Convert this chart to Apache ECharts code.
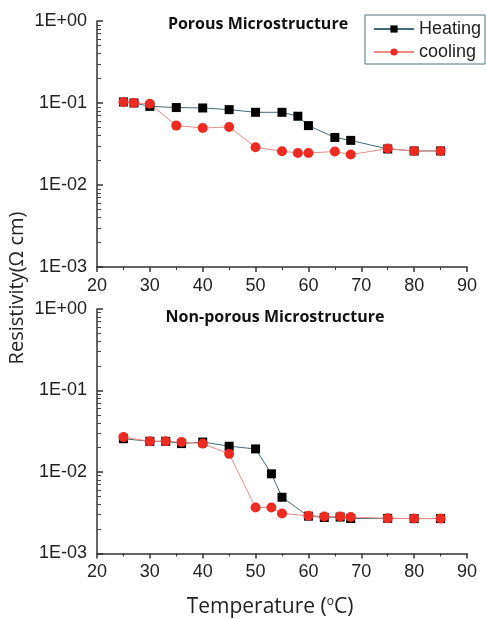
<!DOCTYPE html>
<html>
<head>
<meta charset="utf-8">
<script src="https://cdn.jsdelivr.net/npm/echarts@6/dist/echarts.min.js"></script>
<style>
  html, body { margin: 0; padding: 0; background: #fff; }
  #chart { width: 486px; height: 619px; }
</style>
</head>
<body>
<div id="chart"></div>
<script>
// porous microstructure
const porousHeatT = [25, 27, 30, 35, 40, 45, 50, 55, 58, 60, 65, 68, 75, 80, 85];
const porousHeat = [0.103, 0.100, 0.091, 0.088, 0.087, 0.083, 0.077, 0.077, 0.069, 0.053, 0.038, 0.035, 0.0275, 0.026, 0.026];
const porousCoolT = [25, 27, 30, 35, 40, 45, 50, 55, 58, 60, 65, 68, 75, 80, 85];
const porousCool = [0.103, 0.100, 0.098, 0.053, 0.0496, 0.051, 0.0288, 0.0258, 0.0246, 0.0246, 0.0256, 0.0235, 0.0278, 0.026, 0.026];
// non-porous microstructure
const denseHeatT = [25, 30, 33, 36, 40, 45, 50, 53, 55, 60, 63, 66, 68, 75, 80, 85];
const denseHeat = [0.0256, 0.0238, 0.0238, 0.0223, 0.0233, 0.0207, 0.0192, 0.0095, 0.0049, 0.00287, 0.00277, 0.0028, 0.00269, 0.0027, 0.00268, 0.00268];
const denseCoolT = [25, 30, 33, 36, 40, 45, 50, 53, 55, 60, 63, 66, 68, 75, 80, 85];
const denseCool = [0.0268, 0.0238, 0.0238, 0.0233, 0.0223, 0.0167, 0.00366, 0.00366, 0.0031, 0.0029, 0.00285, 0.00285, 0.0028, 0.0027, 0.00269, 0.00269];

const xTicks = [20, 30, 40, 50, 60, 70, 80, 90];

const pairs = (xs, ys) => xs.map((x, i) => [x, ys[i]]);
const expLabel = v => {
  const e = Math.round(Math.log10(v));
  return '1E' + (e >= 0 ? '+' : '-') + String(Math.abs(e)).padStart(2, '0');
};

const axisLine = { lineStyle: { color: '#333', width: 1.5 } };
const font = 'Liberation Sans, Arial, sans-serif';

const mkX = (gi, withName) => ({
  type: 'value', gridIndex: gi, min: xTicks[0], max: xTicks[xTicks.length - 1], interval: 10,
  axisLine: axisLine,
  axisTick: { inside: false, length: 5, lineStyle: { color: '#333', width: 1.5 } },
  minorTick: { show: true, splitNumber: 2, length: 3, lineStyle: { color: '#333' } },
  splitLine: { show: false },
  axisLabel: { color: '#222', fontSize: 18, fontFamily: font, margin: 10 },
  name: withName ? '{a|Temperature (}{s|o}{a|C)}' : '',
  nameLocation: 'middle', nameGap: 42,
  nameTextStyle: {
    padding: [0, 24, 0, 0],
    rich: {
      a: { fontSize: 21, color: '#222', fontFamily: 'Open Sans, sans-serif' },
      s: { fontSize: 12, color: '#222', fontFamily: 'Open Sans, sans-serif', padding: [0, 0, 12, 0] }
    }
  }
});

const mkY = gi => ({
  type: 'log', gridIndex: gi, logBase: 10, min: 0.001, max: 1,
  axisLine: axisLine,
  axisTick: { inside: true, length: 6, lineStyle: { color: '#333', width: 1.5 } },
  minorTick: { show: true, splitNumber: 9, length: 4, lineStyle: { color: '#444', width: 1 } },
  splitLine: { show: false },
  axisLabel: { color: '#222', fontSize: 18, fontFamily: font, margin: 10, formatter: expLabel }
});

const heatStyle = {
  type: 'line', symbol: 'rect', symbolSize: 9,
  itemStyle: { color: '#000' },
  lineStyle: { color: '#3f6b78', width: 1 }
};
const coolStyle = {
  type: 'line', symbol: 'circle', symbolSize: 10,
  itemStyle: { color: '#ee2b22' },
  lineStyle: { color: '#ec8b86', width: 1 }
};

const chart = echarts.init(document.getElementById('chart'));
chart.setOption({
  animation: false,
  title: [
    { text: 'Porous Microstructure', left: 253, top: 11, textAlign: 'center',
      textStyle: { fontSize: 16, fontWeight: 'bold', color: '#111', fontFamily: 'Open Sans, sans-serif' } },
    { text: 'Non-porous Microstructure', left: 270, top: 304, textAlign: 'center',
      textStyle: { fontSize: 16, fontWeight: 'bold', color: '#111', fontFamily: 'Open Sans, sans-serif' } }
  ],
  legend: {
    data: ['Heating', 'cooling'],
    orient: 'vertical', left: 365, top: 15,
    itemWidth: 40, itemHeight: 9, itemGap: 5,
    padding: [5, 4, 3, 8],
    borderColor: '#4f7480', borderWidth: 1,
    textStyle: { fontSize: 18, color: '#222', fontFamily: font }
  },
  graphic: [{
    type: 'text', x: 17, y: 288, rotation: Math.PI / 2,
    style: { text: 'Resistivity(\u03A9 cm)', fontSize: 20, fill: '#222', fontFamily: 'Open Sans, sans-serif',
      align: 'center', verticalAlign: 'middle' }
  }],
  grid: [
    { left: 97, right: 19, top: 21, height: 246 },
    { left: 97, right: 19, top: 309, height: 246 }
  ],
  xAxis: [mkX(0, false), mkX(1, true)],
  yAxis: [mkY(0), mkY(1)],
  series: [
    Object.assign({ name: 'Heating', xAxisIndex: 0, yAxisIndex: 0, data: pairs(porousHeatT, porousHeat) }, heatStyle),
    Object.assign({ name: 'cooling', xAxisIndex: 0, yAxisIndex: 0, data: pairs(porousCoolT, porousCool) }, coolStyle),
    Object.assign({ name: 'Heating', xAxisIndex: 1, yAxisIndex: 1, data: pairs(denseHeatT, denseHeat) }, heatStyle),
    Object.assign({ name: 'cooling', xAxisIndex: 1, yAxisIndex: 1, data: pairs(denseCoolT, denseCool) }, coolStyle)
  ]
});
</script>
</body>
</html>
